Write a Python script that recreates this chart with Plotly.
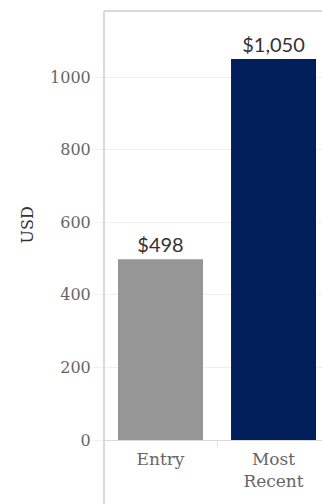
import plotly.graph_objects as go

categories = ["Entry", "Most<br>Recent"]
values = [498, 1050]
colors = ["#969696", "#011f5b"]
y_ticks = [0, 200, 400, 600, 800, 1000]

labels = [f"${v:,}" for v in values]

W, H = 322, 504
L, T, B, R = 104, 11, 64, 0
ph = H - T - B

fig = go.Figure(go.Bar(
    x=categories, y=values, marker=dict(color=colors, line=dict(width=0)),
    text=labels, textposition="outside", cliponaxis=False,
    textfont=dict(family="Lato", size=20, color="#333333"),
    hoverinfo="skip",
))

fig.update_layout(
    width=W, height=H, margin=dict(l=L, r=R, t=T, b=B),
    paper_bgcolor="white", plot_bgcolor="white",
    bargap=0.248, showlegend=False,
    xaxis=dict(range=[-0.5, 1.429], showgrid=False, zeroline=False,
               showline=False, ticks="outside", tickson="boundaries",
               ticklen=7, tickcolor="#e6e6e6", tickwidth=1,
               ticklabelstandoff=7,
               tickfont=dict(family="DejaVu Serif", size=17, color="#666666")),
    yaxis=dict(range=[0, 1182], tickvals=y_ticks, showgrid=True,
               gridcolor="#efefef", gridwidth=1, zeroline=True,
               zerolinecolor="#dadada", zerolinewidth=1,
               ticks="outside", ticklen=9, tickcolor="#efefef",
               tickfont=dict(family="DejaVu Serif", size=16, color="#666666"),
               showline=False),
    shapes=[
        dict(type="line", xref="paper", yref="paper", x0=0, x1=0,
             y0=-B / ph, y1=1, line=dict(color="#d9d9d9", width=2)),
        dict(type="line", xref="paper", yref="paper", x0=0, x1=1,
             y0=1, y1=1, line=dict(color="#d9d9d9", width=2)),
    ],
    annotations=[
        dict(text="USD", xref="paper", yref="paper",
             x=(27 - L) / (W - L - R), y=0.5, textangle=-90, showarrow=False,
             xanchor="center", yanchor="middle",
             font=dict(family="DejaVu Serif", size=16, color="#333333")),
    ],
)

fig.write_html("out.html")
